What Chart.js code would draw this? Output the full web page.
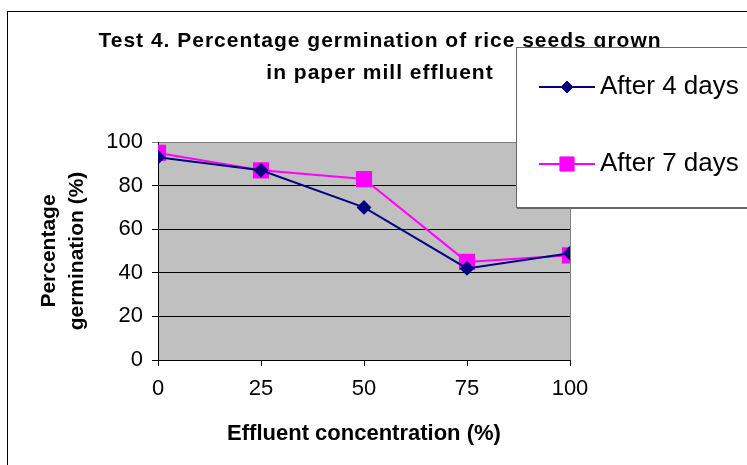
<!DOCTYPE html>
<html>
<head>
<meta charset="utf-8">
<style>
  html, body { margin: 0; padding: 0; background: #fff; }
  #wrap { width: 747px; height: 465px; position: relative; }
</style>
<script src="https://cdn.jsdelivr.net/npm/chart.js@4/dist/chart.umd.min.js"></script>
</head>
<body>
<div id="wrap"><canvas id="germChart"></canvas></div>
<script>
// effluent concentration (%)
var concentrations = [0, 25, 50, 75, 100]
var after4Days = [93, 87, 70, 42, 49]
var after7Days = [95, 87, 83, 45, 48]
var seriesNames = ['After 4 days', 'After 7 days']
var titleLines = ['Test 4. Percentage germination of rice seeds grown', 'in paper mill effluent']
var yTitle = ['Percentage', 'germination (%)']
var xTitle = 'Effluent concentration (%)'

var FONT = "'Liberation Sans', Arial, sans-serif"

// gray plot area + outer frame, then title and legend box on top
var frame = {
  id: 'frame',
  beforeDraw(chart) {
    var c = chart.ctx, a = chart.chartArea
    c.save()
    c.fillStyle = '#c0c0c0'
    c.fillRect(a.left, a.top, a.right - a.left, a.bottom - a.top)
    c.strokeStyle = '#808080'
    c.lineWidth = 1
    c.beginPath()
    c.moveTo(a.right + 0.5, a.top)
    c.lineTo(a.right + 0.5, a.bottom)
    c.stroke()
    c.strokeStyle = '#000'
    c.strokeRect(7.5, 11.5, 800, 500)
    c.restore()
  },
  afterDraw(chart) {
    var c = chart.ctx
    c.save()
    // title
    c.fillStyle = '#000'
    c.font = 'bold 21px ' + FONT
    c.letterSpacing = '1px'
    c.textAlign = 'center'
    c.textBaseline = 'middle'
    c.fillText(titleLines[0], 380, 41)
    c.fillText(titleLines[1], 380, 73)
    c.letterSpacing = '0px'
    // legend box
    c.fillStyle = '#fff'
    c.fillRect(516, 47, 260, 160)
    c.strokeStyle = '#666'
    c.lineWidth = 1
    c.strokeRect(516.5, 47.5, 260, 160)
    c.lineWidth = 2
    c.beginPath()
    c.moveTo(517, 208)
    c.lineTo(760, 208)
    c.stroke()
    var rows = [87, 164]
    chart.data.datasets.forEach(function (ds, i) {
      var y = rows[i]
      c.strokeStyle = ds.borderColor
      c.lineWidth = ds.borderWidth
      c.beginPath()
      c.moveTo(539, y)
      c.lineTo(595, y)
      c.stroke()
      c.fillStyle = ds.pointBackgroundColor
      c.strokeStyle = ds.pointBorderColor
      c.lineWidth = 1
      Chart.helpers.drawPoint(c, { pointStyle: ds.pointStyle, radius: ds.pointRadius, rotation: 0, borderWidth: 1 }, 567, y)
      c.fillStyle = '#000'
      c.font = '26px ' + FONT
      c.textAlign = 'left'
      c.textBaseline = 'middle'
      c.fillText(ds.label, 600, y)
    })
    c.restore()
  }
}

new Chart(document.getElementById('germChart'), {
  type: 'line',
  data: {
    datasets: [
      {
        label: seriesNames[0],
        data: concentrations.map((x, i) => ({ x: x, y: after4Days[i] })),
        borderColor: '#000080',
        backgroundColor: '#000080',
        pointBackgroundColor: '#000080',
        pointBorderColor: '#000080',
        borderWidth: 2,
        pointStyle: 'rectRot',
        pointRadius: 6,
        tension: 0,
      },
      {
        label: seriesNames[1],
        data: concentrations.map((x, i) => ({ x: x, y: after7Days[i] })),
        borderColor: '#ff00ff',
        backgroundColor: '#ff00ff',
        pointBackgroundColor: '#ff00ff',
        pointBorderColor: '#ff00ff',
        borderWidth: 2,
        pointStyle: 'rect',
        pointRadius: 10,
        tension: 0,
      },
    ],
  },
  options: {
    responsive: true,
    maintainAspectRatio: false,
    animation: false,
    layout: { padding: { top: 142, right: 177, left: 0, bottom: 0 } },
    plugins: {
      legend: { display: false },
      title: { display: false },
      tooltip: { enabled: false },
    },
    scales: {
      x: {
        type: 'linear',
        min: 0,
        max: 100,
        afterFit(s) { s.height = 105 },
        ticks: { stepSize: 25, color: '#000', padding: 10, font: { family: FONT, size: 22 } },
        grid: { drawOnChartArea: false, drawTicks: true, tickLength: 6, color: '#000' },
        border: { color: '#000', width: 1 },
        title: { display: true, text: xTitle, color: '#000', padding: { top: 8, bottom: 18 }, font: { family: FONT, size: 22, weight: 'bold' } },
      },
      y: {
        min: 0,
        max: 100,
        afterFit(s) { s.width = 158 },
        ticks: { stepSize: 20, color: '#000', padding: 9, font: { family: FONT, size: 22 } },
        grid: {
          color: (ctx) => (ctx.tick && ctx.tick.value === 100 ? '#808080' : '#000'),
          tickLength: 6,
          lineWidth: 1,
        },
        border: { color: '#000', width: 1 },
        title: { display: true, text: yTitle, color: '#000', padding: { top: 35, bottom: 0 }, font: { family: FONT, size: 21, weight: 'bold', lineHeight: 1.35 } },
      },
    },
  },
  plugins: [frame],
})
</script>
</body>
</html>
